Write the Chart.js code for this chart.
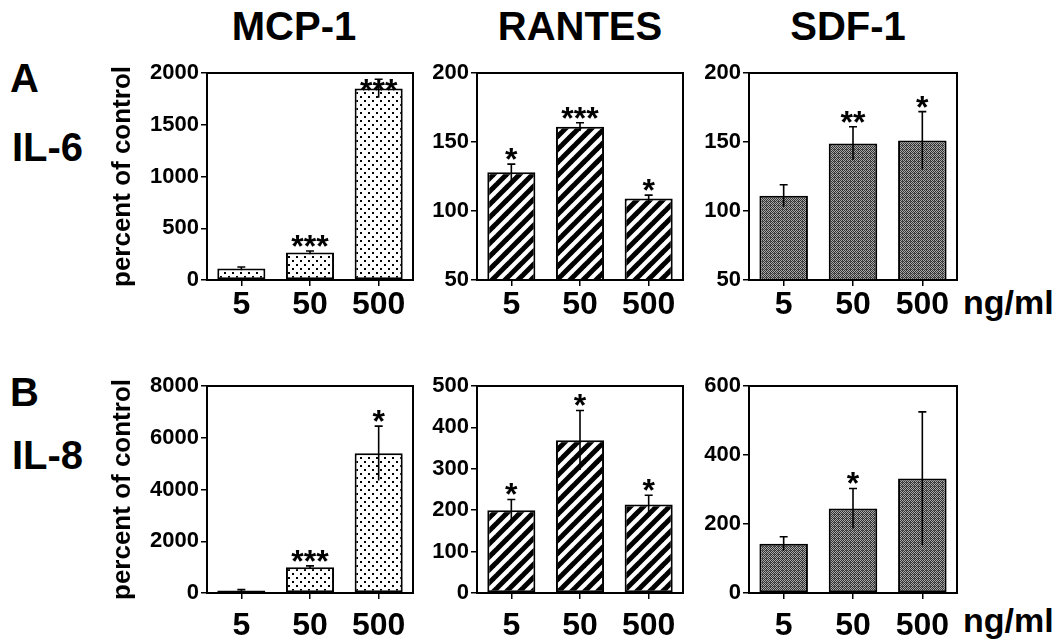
<!DOCTYPE html>
<html>
<head>
<meta charset="utf-8">
<script src="https://cdn.jsdelivr.net/npm/chart.js@4"></script>
<style>
body { margin: 0; background: #fff; width: 1062px; height: 642px; position: relative; overflow: hidden;
  font-family: "Liberation Sans", Arial, sans-serif; font-weight: bold; color: #000; }
.lbl { position: absolute; line-height: 1; white-space: nowrap; }
.hd { transform: translateX(-50%); font-size: 40px; top: 6px; }
canvas { position: absolute; }
</style>
</head>
<body>
<div class="lbl hd" style="left:294px">MCP-1</div>
<div class="lbl hd" style="left:580px">RANTES</div>
<div class="lbl hd" style="left:848px">SDF-1</div>
<div class="lbl" style="left:10px;top:58px;font-size:40px">A</div>
<div class="lbl" style="left:12px;top:127px;font-size:40px">IL-6</div>
<div class="lbl" style="left:10px;top:372px;font-size:40px">B</div>
<div class="lbl" style="left:12px;top:435px;font-size:40px">IL-8</div>
<div class="lbl" style="left:963px;top:285px;font-size:34px">ng/ml</div>
<div class="lbl" style="left:963px;top:603px;font-size:34px">ng/ml</div>

<script>
const doses = ["5", "50", "500"];

// A: IL-6
const il6Mcp = [110, 265, 1850];
const il6McpSd = [15, 15, 90];
const il6McpSig = ["", "***", "***"];
const il6Rantes = [128, 161, 109];
const il6RantesSd = [6, 3, 2.5];
const il6RantesSig = ["*", "***", "*"];
const il6Sdf = [111, 149, 151];
const il6SdfSd = [8, 12, 21];
const il6SdfSig = ["", "**", "*"];

// B: IL-8
const il8Mcp = [100, 1000, 5400];
const il8McpSd = [30, 50, 1050];
const il8McpSig = ["", "***", "*"];
const il8Rantes = [200, 369, 214];
const il8RantesSd = [26, 72, 22];
const il8RantesSig = ["*", "*", "*"];
const il8Sdf = [143, 245, 332];
const il8SdfSd = [20, 58, 193];
const il8SdfSig = ["", "*", ""];

// y axes: [min, max, step]
const il6McpAxis = [0, 2000, 500];
const il6RantesAxis = [50, 200, 50];
const il6SdfAxis = [50, 200, 50];
const il8McpAxis = [0, 8000, 2000];
const il8RantesAxis = [0, 500, 100];
const il8SdfAxis = [0, 600, 200];

const FONT = '"Liberation Sans", Arial, sans-serif';

function tile(size, draw) {
  const c = document.createElement("canvas");
  c.width = size;
  c.height = size;
  const g = c.getContext("2d");
  draw(g, size);
  return c;
}

function makeFills(ctx) {
  const dots = tile(8, (g, s) => {
    g.fillStyle = "#fff";
    g.fillRect(0, 0, s, s);
    g.fillStyle = "#000";
    g.fillRect(1, 1, 2, 2);
    g.fillRect(5, 5, 2, 2);
  });
  const stripes = tile(13, (g, s) => {
    g.fillStyle = "#fff";
    g.fillRect(0, 0, s, s);
    g.strokeStyle = "#000";
    g.lineWidth = 5;
    for (let k = -1; k <= 1; k++) {
      g.beginPath();
      g.moveTo(k * s - 2, s + 2);
      g.lineTo(k * s + s + 2, -2);
      g.stroke();
    }
  });
  const grey = tile(4, (g, s) => {
    g.fillStyle = "#a8a8a8";
    g.fillRect(0, 0, s, s);
    g.fillStyle = "#333";
    g.fillRect(0, 0, 1, 1);
    g.fillRect(2, 0, 1, 1);
    g.fillRect(1, 1, 1, 1);
    g.fillRect(3, 1, 1, 1);
    g.fillRect(0, 2, 1, 1);
    g.fillRect(2, 2, 1, 1);
    g.fillRect(1, 3, 1, 1);
    g.fillRect(3, 3, 1, 1);
    g.fillStyle = "#555";
    g.fillRect(1, 2, 1, 1);
  });
  return {
    dots: ctx.createPattern(dots, "repeat"),
    stripes: ctx.createPattern(stripes, "repeat"),
    grey: ctx.createPattern(grey, "repeat"),
  };
}

const extras = {
  id: "extras",
  afterDatasetsDraw(chart, args, opts) {
    const { ctx, chartArea: a } = chart;
    const ys = chart.scales.y;
    ctx.save();
    ctx.strokeStyle = "#000";
    ctx.fillStyle = "#000";
    ctx.lineWidth = 2;
    ctx.strokeRect(a.left, a.top, a.right - a.left, a.bottom - a.top);
    ctx.lineWidth = 1.6;
    chart.getDatasetMeta(0).data.forEach((bar, i) => {
      const v = opts.vals[i];
      const hi = ys.getPixelForValue(v + opts.sd[i]);
      const lo = ys.getPixelForValue(Math.max(v - opts.sd[i], opts.min));
      ctx.beginPath();
      ctx.moveTo(bar.x, lo);
      ctx.lineTo(bar.x, hi);
      ctx.moveTo(bar.x - 4, hi);
      ctx.lineTo(bar.x + 4, hi);
      ctx.stroke();
      if (opts.sig[i]) {
        ctx.font = "bold 32px " + FONT;
        ctx.textAlign = "center";
        ctx.textBaseline = "alphabetic";
        const y = Math.max(hi - 6, a.top + 16);
        ctx.fillText(opts.sig[i], bar.x, y + 12);
      }
    });
    ctx.restore();
  },
};

const panels = [
  { x: 207, y: 73, w: 206, vals: il6Mcp, sd: il6McpSd, sig: il6McpSig, axis: il6McpAxis, fill: "dots", title: true, pad: 0 },
  { x: 477, y: 73, w: 206, vals: il6Rantes, sd: il6RantesSd, sig: il6RantesSig, axis: il6RantesAxis, fill: "stripes", pad: 0 },
  { x: 749, y: 73, w: 208, vals: il6Sdf, sd: il6SdfSd, sig: il6SdfSig, axis: il6SdfAxis, fill: "grey", pad: 0 },
  { x: 207, y: 386, w: 206, vals: il8Mcp, sd: il8McpSd, sig: il8McpSig, axis: il8McpAxis, fill: "dots", title: true, pad: 8 },
  { x: 477, y: 386, w: 206, vals: il8Rantes, sd: il8RantesSd, sig: il8RantesSig, axis: il8RantesAxis, fill: "stripes", pad: 8 },
  { x: 749, y: 386, w: 208, vals: il8Sdf, sd: il8SdfSd, sig: il8SdfSig, axis: il8SdfAxis, fill: "grey", pad: 8 },
];

function makeChart(p) {
  const yw = p.title ? 100 : 60;
  const cv = document.createElement("canvas");
  cv.width = yw + p.w + 12;
  cv.height = 30 + 207 + 50;
  cv.style.left = p.x - yw + "px";
  cv.style.top = p.y - 30 + "px";
  document.body.appendChild(cv);
  const ctx = cv.getContext("2d");
  const fills = makeFills(ctx);
  new Chart(cv, {
    type: "bar",
    data: {
      labels: doses,
      datasets: [
        {
          data: p.vals,
          backgroundColor: fills[p.fill],
          borderColor: "#000",
          borderWidth: 2,
          borderSkipped: false,
          barPercentage: 0.7,
          categoryPercentage: 1,
        },
      ],
    },
    options: {
      responsive: false,
      animation: false,
      layout: { padding: { top: 30, right: 12, left: 0, bottom: 0 } },
      plugins: {
        legend: { display: false },
        tooltip: { enabled: false },
        extras: { vals: p.vals, sd: p.sd, sig: p.sig, min: p.axis[0] },
      },
      scales: {
        x: {
          grid: { drawOnChartArea: false, offset: false, tickLength: 6, color: "#000", lineWidth: 1.5 },
          border: { color: "#000", width: 2 },
          ticks: { color: "#000", font: { family: FONT, size: 32, weight: "bold" }, padding: p.pad, maxRotation: 0 },
          afterFit: (s) => { s.height = 50; },
        },
        y: {
          min: p.axis[0],
          max: p.axis[1],
          ticks: {
            stepSize: p.axis[2],
            color: "#000",
            font: { family: FONT, size: 22, weight: "bold" },
            padding: 2,
            callback: (v) => String(v),
          },
          grid: { drawOnChartArea: false, tickLength: 6, color: "#000", lineWidth: 1.5 },
          border: { color: "#000", width: 2 },
          title: {
            display: !!p.title,
            text: "percent of control",
            color: "#000",
            font: { family: FONT, size: 26, weight: "bold" },
            padding: 0,
          },
          afterFit: (s) => { s.width = yw; },
        },
      },
    },
    plugins: [extras],
  });
}

panels.forEach(makeChart);
</script>
</body>
</html>
